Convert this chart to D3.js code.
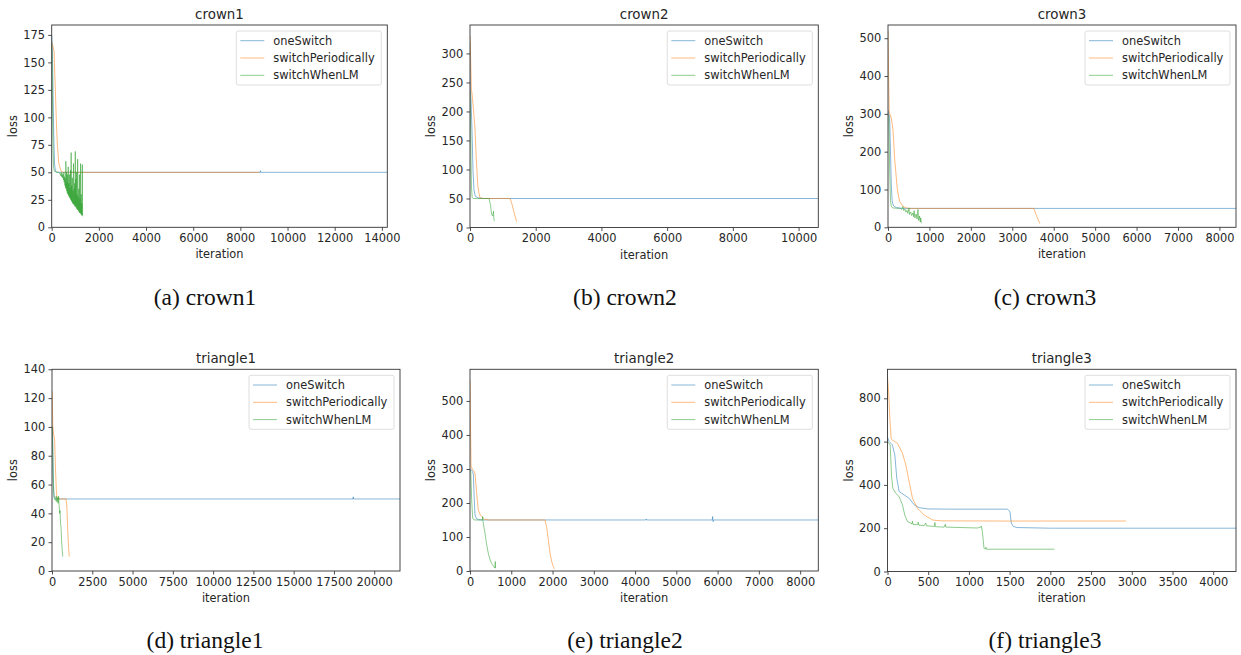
<!DOCTYPE html>
<html>
<head>
<meta charset="utf-8">
<script src="https://cdn.jsdelivr.net/npm/d3@7"></script>
<style>
  body { margin: 0; background: #fff; }
  svg { display: block; }
</style>
</head>
<body>
<div id="chart"></div>
<script>
// panels
var panelNames = ["crown1", "crown2", "crown3", "triangle1", "triangle2", "triangle3"];
var captionLabels = ["(a) crown1", "(b) crown2", "(c) crown3", "(d) triangle1", "(e) triangle2", "(f) triangle3"];
var seriesNames = ["oneSwitch", "switchPeriodically", "switchWhenLM"];

var xLimits = [14230, 10600, 8400, 21600, 8440, 4280];
var yLimits = [184, 349, 535, 140, 593, 934];

var xTickValues = [
  [0, 2000, 4000, 6000, 8000, 10000, 12000, 14000],
  [0, 2000, 4000, 6000, 8000, 10000],
  [0, 1000, 2000, 3000, 4000, 5000, 6000, 7000, 8000],
  [0, 2500, 5000, 7500, 10000, 12500, 15000, 17500, 20000],
  [0, 1000, 2000, 3000, 4000, 5000, 6000, 7000, 8000],
  [0, 500, 1000, 1500, 2000, 2500, 3000, 3500, 4000]
];
var yTickValues = [
  [0, 25, 50, 75, 100, 125, 150, 175],
  [0, 50, 100, 150, 200, 250, 300],
  [0, 100, 200, 300, 400, 500],
  [0, 20, 40, 60, 80, 100, 120, 140],
  [0, 100, 200, 300, 400, 500],
  [0, 200, 400, 600, 800]
];

// [iteration, loss]
var crown1OneSwitch = [[0,175],[30,160],[60,120],[90,80],[120,58],[160,51],[250,50],[8840,50],[8850,51.5],[8860,50],[14230,50]];
var crown1SwitchPeriodically = [[0,168],[50,165],[100,160],[150,128],[200,95],[240,75],[300,58],[400,51],[500,50],[8800,50]];
var crown1SwitchWhenLM = [[0,168],[20,150],[40,100],[60,70],[80,55],[110,51],[200,50],[300,50],[350,49],[380,47],[400,50],[420,46],[440,49],[460,45],[480,48],[500,43],[515,50],[530,41],[545,46],[560,38],[575,44],[590,36],[600,60],[612,35],[625,50],[638,33],[650,41],[662,31],[675,48],[688,30],[700,55],[712,29],[725,40],[738,28],[750,48],[762,27],[775,36],[788,26],[800,52],[812,25],[825,68],[838,24],[850,38],[862,23],[875,45],[888,22],[900,33],[912,21],[925,58],[938,21],[950,35],[962,20],[975,40],[988,19],[1000,69],[1012,19],[1025,44],[1038,18],[1050,50],[1062,17],[1075,30],[1088,16],[1100,62],[1112,16],[1125,28],[1138,15],[1150,35],[1162,14],[1175,48],[1188,13],[1200,26],[1212,13],[1225,58],[1238,12],[1250,30],[1262,11],[1275,22],[1288,11],[1300,57],[1310,10]];

var crown2OneSwitch = [[0,320],[10,240],[30,220],[60,170],[90,100],[120,65],[160,54],[250,51],[400,50],[10600,50]];
var crown2SwitchPeriodically = [[0,330],[20,290],[40,240],[70,226],[110,200],[150,172],[190,120],[234,74],[270,60],[305,51],[400,50],[1220,50],[1270,42],[1330,28],[1380,18],[1420,10]];
var crown2SwitchWhenLM = [[0,234],[15,200],[30,120],[45,70],[65,52],[100,50],[580,50],[620,40],[660,22],[690,20],[705,24],[715,28],[725,16],[740,11]];

var crown3OneSwitch = [[0,310],[40,290],[60,200],[80,110],[100,70],[130,57],[200,52],[350,50],[8400,50]];
var crown3SwitchPeriodically = [[0,520],[15,400],[30,305],[82,288],[121,258],[162,179],[226,99],[282,68],[362,55],[450,51],[550,50],[3520,50],[3580,32],[3665,10]];
var crown3SwitchWhenLM = [[0,300],[20,290],[40,150],[60,70],[80,55],[120,51],[300,50],[330,47],[360,55],[380,44],[410,48],[430,40],[460,45],[480,37],[507,51],[520,34],[550,40],[570,31],[600,38],[620,28],[630,44],[650,25],[680,35],[700,22],[724,47],[740,18],[760,30],[780,14],[790,25],[805,11]];

var triangle1OneSwitch = [[0,100],[30,100],[60,80],[90,60],[130,51],[210,50],[18690,50],[18700,51.5],[18710,50],[21600,50]];
var triangle1SwitchPeriodically = [[0,125],[20,120],[50,100],[100,95],[165,91],[220,70],[270,56],[310,51],[350,50],[870,50],[920,45],[970,30],[1020,18],[1070,10]];
var triangle1SwitchWhenLM = [[0,100],[30,92],[60,70],[100,55],[150,50],[220,49],[260,52],[300,48],[340,51],[380,47],[410,52],[440,46],[475,40],[500,42],[530,33],[558,31],[590,22],[630,15],[665,10]];

var triangle2OneSwitch = [[0,300],[41,297],[81,285],[100,220],[121,165],[150,155],[200,151],[300,150],[4260,150],[4270,153],[4280,150],[5870,150],[5880,160],[5890,145],[5900,150],[8440,150]];
var triangle2SwitchPeriodically = [[0,560],[10,450],[25,310],[50,300],[90,295],[121,287],[162,228],[202,179],[250,165],[283,160],[350,152],[450,150],[1818,150],[1859,127],[1900,90],[1939,52],[1980,28],[2020,13],[2044,6]];
var triangle2SwitchWhenLM = [[0,297],[20,290],[40,210],[65,155],[100,150],[300,150],[307,160],[315,146],[340,128],[364,111],[400,80],[444,52],[480,35],[525,22],[570,14],[606,9],[612,28],[618,8]];

var triangle3OneSwitch = [[0,620],[20,600],[61,584],[90,538],[114,431],[143,369],[204,354],[266,338],[327,308],[388,295],[490,289],[777,288],[1471,288],[1504,277],[1520,223],[1545,208],[1594,203],[2003,200],[4280,200]];
var triangle3SwitchPeriodically = [[0,900],[15,820],[30,700],[45,612],[61,607],[123,592],[184,546],[225,492],[266,415],[307,338],[368,292],[450,261],[552,238],[654,234],[1500,233],[2930,233]];
var triangle3SwitchWhenLM = [[0,600],[33,584],[49,446],[65,385],[102,361],[143,346],[184,308],[212,261],[245,231],[300,220],[307,232],[312,218],[370,216],[378,228],[384,214],[450,212],[470,224],[476,211],[520,210],[575,208],[582,226],[588,207],[695,205],[710,218],[716,205],[1104,201],[1144,205],[1152,210],[1165,185],[1185,108],[1198,103],[1210,112],[1216,103],[2050,103]];

var panelSeries = [
  [crown1OneSwitch, crown1SwitchPeriodically, crown1SwitchWhenLM],
  [crown2OneSwitch, crown2SwitchPeriodically, crown2SwitchWhenLM],
  [crown3OneSwitch, crown3SwitchPeriodically, crown3SwitchWhenLM],
  [triangle1OneSwitch, triangle1SwitchPeriodically, triangle1SwitchWhenLM],
  [triangle2OneSwitch, triangle2SwitchPeriodically, triangle2SwitchWhenLM],
  [triangle3OneSwitch, triangle3SwitchPeriodically, triangle3SwitchWhenLM]
];

(function() {
  var width = 1241
    , height = 655
    , colors = ["#1f77b4", "#ff7f0e", "#2ca02c"]
    , sans = "'DejaVu Sans', sans-serif"
    , fontSize = 11.4
    , textColor = "#262626"
    , boxes = [
        {x: 51.7, y: 25, w: 335.6, h: 202.3},
        {x: 470, y: 25, w: 348.3, h: 202.5},
        {x: 888, y: 25, w: 348, h: 202.3},
        {x: 52, y: 369.3, w: 348, h: 201.7},
        {x: 470, y: 369.3, w: 348.3, h: 201.7},
        {x: 887.5, y: 369.3, w: 348.5, h: 202.2}
      ]
    , captionX = [205, 625, 1045]
    , captionY = [305, 648]
    ;

  var svg = d3.select('#chart')
    .append('svg')
      .attr('width', width)
      .attr('height', height)
      .style('background', '#fff');

  function styleAxis(a) {
    a.select('.domain').remove();
    a.attr('font-family', sans).attr('font-size', fontSize);
    a.selectAll('line').attr('stroke', '#222').attr('stroke-width', 0.8);
    a.selectAll('text').attr('fill', textColor);
  }

  function drawPanel(i) {
    var box = boxes[i]
      , g = svg.append('g').attr('transform', 'translate(' + box.x + ',' + box.y + ')')
      , x = d3.scaleLinear().domain([0, xLimits[i]]).range([0, box.w])
      , y = d3.scaleLinear().domain([0, yLimits[i]]).range([box.h, 0])
      , line = d3.line().x(d => x(d[0])).y(d => y(d[1]))
      , clipId = 'clip' + i
      ;

    g.append('clipPath').attr('id', clipId)
      .append('rect').attr('width', box.w).attr('height', box.h);

    g.append('g')
      .attr('clip-path', 'url(#' + clipId + ')')
      .selectAll('path')
      .data(panelSeries[i])
      .enter()
      .append('path')
        .attr('d', line)
        .attr('fill', 'none')
        .attr('stroke', (d, k) => colors[k])
        .attr('stroke-opacity', 0.6)
        .attr('stroke-width', 0.9)
        .attr('stroke-linejoin', 'round');

    g.append('g')
      .attr('transform', 'translate(0,' + box.h + ')')
      .call(d3.axisBottom(x).tickValues(xTickValues[i]).tickSize(3.5).tickPadding(3).tickFormat(d3.format('d')))
      .call(styleAxis);

    g.append('g')
      .call(d3.axisLeft(y).tickValues(yTickValues[i]).tickSize(3.5).tickPadding(3.2).tickFormat(d3.format('d')))
      .call(styleAxis);

    g.append('rect')
      .attr('width', box.w)
      .attr('height', box.h)
      .attr('fill', 'none')
      .attr('stroke', '#333')
      .attr('stroke-width', 0.9);

    g.append('text')
      .attr('x', box.w / 2)
      .attr('y', -6)
      .attr('text-anchor', 'middle')
      .attr('font-family', sans)
      .attr('font-size', 13.4)
      .attr('fill', textColor)
      .text(panelNames[i]);

    g.append('text')
      .attr('x', box.w / 2)
      .attr('y', box.h + 31)
      .attr('text-anchor', 'middle')
      .attr('font-family', sans)
      .attr('font-size', fontSize)
      .attr('fill', textColor)
      .text('iteration');

    g.append('text')
      .attr('transform', 'translate(-34.6,' + (box.h / 2) + ') rotate(-90)')
      .attr('text-anchor', 'middle')
      .attr('font-family', sans)
      .attr('font-size', fontSize)
      .attr('fill', textColor)
      .text('loss');

    // legend, upper right
    var legW = 145
      , legH = 54
      , lg = g.append('g').attr('transform', 'translate(' + (box.w - 6 - legW) + ',6)')
      ;

    lg.append('rect')
      .attr('width', legW)
      .attr('height', legH)
      .attr('rx', 2)
      .attr('fill', '#fff')
      .attr('fill-opacity', 0.8)
      .attr('stroke', '#d6d6d6')
      .attr('stroke-width', 0.8);

    var entry = lg.selectAll('g.entry')
      .data(seriesNames)
      .enter()
      .append('g')
        .attr('class', 'entry')
        .attr('transform', (d, k) => 'translate(0,' + (9.7 + k * 17.3) + ')');

    entry.append('line')
      .attr('x1', 4)
      .attr('x2', 28)
      .attr('stroke', (d, k) => colors[k])
      .attr('stroke-opacity', 0.6)
      .attr('stroke-width', 0.9);

    entry.append('text')
      .attr('x', 37)
      .attr('dy', '0.36em')
      .attr('font-family', sans)
      .attr('font-size', fontSize)
      .attr('fill', textColor)
      .text(d => d);
  }

  panelNames.forEach((name, i) => drawPanel(i));

  svg.selectAll('text.caption')
    .data(captionLabels)
    .enter()
    .append('text')
      .attr('class', 'caption')
      .attr('x', (d, i) => captionX[i % 3])
      .attr('y', (d, i) => captionY[Math.floor(i / 3)])
      .attr('text-anchor', 'middle')
      .attr('font-family', "'Liberation Serif', 'DejaVu Serif', serif")
      .attr('font-size', 23.5)
      .attr('fill', '#111')
      .text(d => d);
})();
</script>
</body>
</html>
